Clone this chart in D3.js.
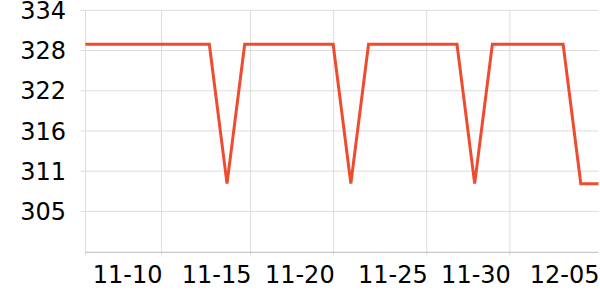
<!DOCTYPE html>
<html>
<head>
<meta charset="utf-8">
<script src="https://cdn.jsdelivr.net/npm/d3@7"></script>
<style>
  body { margin: 0; background: #fff; }
  text { font-family: "DejaVu Sans", sans-serif; }
</style>
</head>
<body>
<div id="chart"></div>
<script>
// one point per day, 30 days
const values = [329.4, 329.4, 329.4, 329.4, 329.4, 329.4, 329.4, 329.4, 309.3, 329.4,
                329.4, 329.4, 329.4, 329.4, 329.4, 309.3, 329.4, 329.4, 329.4, 329.4,
                329.4, 329.4, 309.3, 329.4, 329.4, 329.4, 329.4, 329.4, 309.3, 309.3];
// tick positions in day-index units, as they sit in the picture
const xTickPos = [4.3, 9.33, 14.03, 19.29, 23.99, 29];
const xTickLabels = ["11-10", "11-15", "11-20", "11-25", "11-30", "12-05"];
const yTickValues = [305.3, 311.1, 316.9, 322.7, 328.5, 334.3];
const yTickLabels = ["305", "311", "316", "322", "328", "334"];

const margin = {top: 10.3, right: 1.5, bottom: 47.7, left: 85.5},
    width = 600 - margin.left - margin.right,
    height = 300 - margin.top - margin.bottom;

const svg = d3.select("#chart")
  .append("svg")
    .attr("width", 600)
    .attr("height", 300)
  .append("g")
    .attr("transform", `translate(${margin.left},${margin.top})`);

const x = d3.scaleLinear()
    .domain([0, values.length - 1])
    .range([0, width]);

const y = d3.scaleLinear()
    .domain([299.4, 334.3])
    .range([height, 0]);

// horizontal gridlines
svg.append("g")
  .selectAll("line")
  .data(yTickValues)
  .join("line")
    .attr("x1", -5)
    .attr("x2", width)
    .attr("y1", d => y(d))
    .attr("y2", d => y(d))
    .attr("stroke", "#dddddd")
    .attr("stroke-width", 1);

// vertical gridlines
svg.append("g")
  .selectAll("line")
  .data(xTickPos.slice(0, -1))
  .join("line")
    .attr("x1", d => x(d))
    .attr("x2", d => x(d))
    .attr("y1", 0)
    .attr("y2", height + 3)
    .attr("stroke", "#dddddd")
    .attr("stroke-width", 1);

// left axis line
svg.append("line")
    .attr("x1", 0).attr("x2", 0)
    .attr("y1", 0).attr("y2", height + 3)
    .attr("stroke", "#dddddd");

// bottom axis line
svg.append("line")
    .attr("x1", 0).attr("x2", width)
    .attr("y1", height).attr("y2", height)
    .attr("stroke", "#bbbbbb");

// y labels
svg.append("g")
  .selectAll("text")
  .data(yTickValues)
  .join("text")
    .attr("x", -19.5)
    .attr("y", d => y(d))
    .attr("dy", "0.36em")
    .attr("text-anchor", "end")
    .attr("font-size", 24)
    .attr("fill", "#000")
    .text((d, i) => yTickLabels[i]);

// x labels
svg.append("g")
  .selectAll("text")
  .data(xTickPos)
  .join("text")
    .attr("x", d => x(d) + 1)
    .attr("y", height + 30.5)
    .attr("text-anchor", "end")
    .attr("font-size", 24)
    .attr("fill", "#000")
    .text((d, i) => xTickLabels[i]);

svg.append("path")
    .datum(values)
    .attr("d", d3.line()
        .x((d, i) => x(i))
        .y(d => y(d)))
    .attr("stroke", "#ef4b2e")
    .style("stroke-width", 3)
    .style("fill", "none");
</script>
</body>
</html>
